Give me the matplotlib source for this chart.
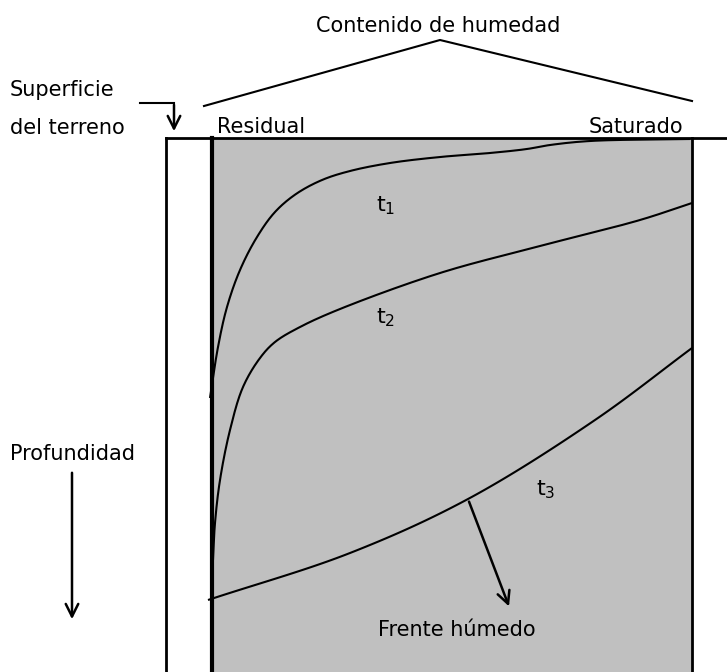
import numpy as np
import matplotlib
matplotlib.use('Agg')
from matplotlib import pyplot as plt

plt.rcParams['font.family'] = ['DejaVu Sans']

# curve control points (pixel coords)
t1_x = [210, 218, 227, 240, 257, 275, 296, 322, 350, 390, 440, 490, 527, 550, 590, 690]
t1_y = [398, 347, 307, 270, 237, 212, 194, 180, 171, 163, 157, 153, 149, 145, 141, 139]
t2_x = [213, 215, 220, 230, 243, 260, 275, 300, 340, 440, 540, 640, 692]
t2_y = [560, 523, 480, 430, 387, 358, 342, 327, 309, 273, 246, 220, 203]
t3_x = [208, 350, 468, 595, 692]
t3_y = [600, 553, 499, 420, 348]


def smooth(xs, ys, n=30):
    # centripetal catmull-rom through the read points, just for a smooth stroke
    p = np.column_stack([xs, ys]).astype(float)
    p = np.vstack([2 * p[0] - p[1], p, 2 * p[-1] - p[-2]])
    out = []
    for i in range(1, len(p) - 2):
        p0, p1, p2, p3 = p[i - 1], p[i], p[i + 1], p[i + 2]
        k0 = 0.0
        k1 = k0 + np.linalg.norm(p1 - p0) ** 0.5
        k2 = k1 + np.linalg.norm(p2 - p1) ** 0.5
        k3 = k2 + np.linalg.norm(p3 - p2) ** 0.5
        t = np.linspace(k1, k2, n, endpoint=False)[:, None]
        a1 = (k1 - t) / (k1 - k0) * p0 + (t - k0) / (k1 - k0) * p1
        a2 = (k2 - t) / (k2 - k1) * p1 + (t - k1) / (k2 - k1) * p2
        a3 = (k3 - t) / (k3 - k2) * p2 + (t - k2) / (k3 - k2) * p3
        b1 = (k2 - t) / (k2 - k0) * a1 + (t - k0) / (k2 - k0) * a2
        b2 = (k3 - t) / (k3 - k1) * a2 + (t - k1) / (k3 - k1) * a3
        out.append((k2 - t) / (k2 - k1) * b1 + (t - k1) / (k2 - k1) * b2)
    out.append(p[-2][None, :])
    out = np.vstack(out)
    return out[:, 0], out[:, 1]


fig = plt.figure(figsize=(7.27, 6.72), dpi=100)
ax = fig.add_axes([0, 0, 1, 1])
ax.set_xlim(0, 727)
ax.set_ylim(672, 0)
ax.axis('off')

# gray soil column
ax.fill_between([212, 692], 138, 672, color='#c0c0c0', lw=0)
ax.plot([166, 727], [138, 138], color='k', lw=2)
ax.plot([166, 166], [138, 672], color='k', lw=2)
ax.plot([212, 212], [138, 672], color='k', lw=3)
ax.plot([692, 692], [138, 672], color='k', lw=2)

# humidity roof
ax.plot([204, 440, 692], [106, 40, 101], color='k', lw=1.5)

for xs, ys in [(t1_x, t1_y), (t2_x, t2_y), (t3_x, t3_y)]:
    sx, sy = smooth(xs, ys)
    ax.plot(sx, sy, color='k', lw=1.5, solid_capstyle='butt')

arrow = dict(arrowstyle='->,head_length=0.9,head_width=0.45', color='k', lw=1.8)
# superficie arrow
ax.plot([140, 174], [103, 103], color='k', lw=1.5)
ax.annotate('', xy=(174, 134), xytext=(174, 102), arrowprops=arrow)
# profundidad arrow
ax.annotate('', xy=(72, 622), xytext=(72, 470), arrowprops=arrow)
# frente humedo arrow
ax.annotate('', xy=(510, 609), xytext=(468, 499), arrowprops=arrow)

fs = 15
ax.text(438, 26, 'Contenido de humedad', fontsize=fs, ha='center', va='center')
ax.text(10, 90, 'Superficie', fontsize=fs, ha='left', va='center')
ax.text(10, 128, 'del terreno', fontsize=fs, ha='left', va='center')
ax.text(217, 127, 'Residual', fontsize=fs, ha='left', va='center')
ax.text(683, 127, 'Saturado', fontsize=fs, ha='right', va='center')
ax.text(10, 454, 'Profundidad', fontsize=fs, ha='left', va='center')
ax.text(378, 630, 'Frente húmedo', fontsize=fs, ha='left', va='center')
ax.text(376, 206, r't$_1$', fontsize=16, ha='left', va='center')
ax.text(376, 318, r't$_2$', fontsize=16, ha='left', va='center')
ax.text(536, 490, r't$_3$', fontsize=16, ha='left', va='center')

fig.savefig('out.png', dpi=100)
